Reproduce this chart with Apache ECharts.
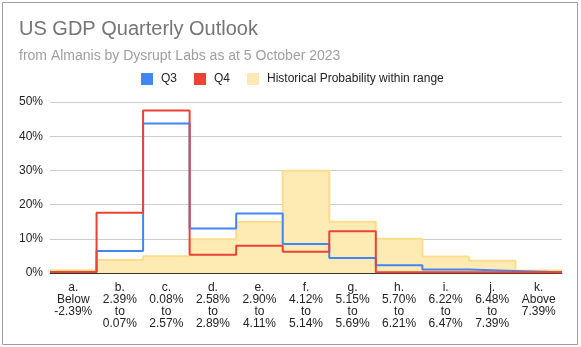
<!DOCTYPE html>
<html>
<head>
<meta charset="utf-8">
<script src="https://cdn.jsdelivr.net/npm/echarts@6/dist/echarts.min.js"></script>
<style>
html,body{margin:0;padding:0;background:#fff;}
#chart{width:581px;height:347px;}
</style>
</head>
<body>
<div id="chart"></div>
<script>
const categories = [
  "a.\nBelow\n-2.39%",
  "b.\n2.39%\nto\n0.07%",
  "c.\n0.08%\nto\n2.57%",
  "d.\n2.58%\nto\n2.89%",
  "e.\n2.90%\nto\n4.11%",
  "f.\n4.12%\nto\n5.14%",
  "g.\n5.15%\nto\n5.69%",
  "h.\n5.70%\nto\n6.21%",
  "i.\n6.22%\nto\n6.47%",
  "j.\n6.48%\nto\n7.39%",
  "k.\nAbove\n7.39%"
];
const q3 = [0.3, 6.4, 43.7, 13.0, 17.4, 8.5, 4.4, 2.3, 1.0, 0.6, 0.2];
const q4 = [0.3, 17.6, 47.5, 5.3, 8.0, 6.2, 12.2, 0.2, 0.2, 0.2, 0.2];
const hist = [0.8, 3.8, 4.9, 9.9, 14.9, 29.9, 15.0, 10.0, 4.8, 3.6, 0.7];
const yTicks = [0, 10, 20, 30, 40, 50];

function stepData(arr) {
  const d = arr.map((v, i) => [i, v]);
  d.push([arr.length, arr[arr.length - 1]]);
  return d;
}

const chart = echarts.init(document.getElementById('chart'), null, {renderer: 'canvas'});
const FONT = 'Liberation Sans, Arial, sans-serif';
chart.setOption({
  animation: false,
  textStyle: {fontFamily: FONT},
  graphic: [{
    type: 'rect', silent: true,
    shape: {x: 2.5, y: 2.5, width: 575, height: 342},
    style: {fill: 'none', stroke: '#9e9e9e', lineWidth: 1},
    z: 100
  }],
  title: [
    {text: 'US GDP Quarterly Outlook', left: 19, top: 19, padding: 0,
     textStyle: {fontFamily: FONT, fontSize: 20, fontWeight: 'normal', color: '#757575'}},
    {text: 'from Almanis by Dysrupt Labs as at 5 October 2023', left: 19, top: 49, padding: 0,
     textStyle: {fontFamily: FONT, fontSize: 14, fontWeight: 'normal', color: '#9e9e9e'}}
  ],
  legend: {
    top: 73, left: 141, padding: 0,
    itemWidth: 12, itemHeight: 12, itemGap: 17,
    icon: 'rect',
    textStyle: {fontFamily: FONT, fontSize: 12, color: '#222', padding: [0, 0, 0, 3]},
    data: [
      {name: 'Q3'},
      {name: 'Q4'},
      {name: 'Historical Probability within range', itemStyle: {color: '#FDE9B3'}}
    ]
  },
  grid: {left: 50, right: 19, top: 102, bottom: 74, containLabel: false},
  xAxis: [
    {
      type: 'category', data: categories, boundaryGap: true,
      axisTick: {show: false},
      axisLine: {show: true, lineStyle: {color: '#333', width: 1}},
      axisLabel: {interval: 0, fontFamily: FONT, fontSize: 12, color: '#222', lineHeight: 12, margin: 9, align: 'center'},
      splitLine: {show: false}
    },
    {
      type: 'value', min: 0, max: categories.length, show: false,
      splitLine: {show: false}
    }
  ],
  yAxis: {
    type: 'value', min: yTicks[0], max: yTicks[yTicks.length - 1], interval: 10,
    axisLine: {show: false}, axisTick: {show: false},
    axisLabel: {formatter: '{value}%', fontFamily: FONT, fontSize: 12, color: '#222', margin: 7},
    splitLine: {lineStyle: {color: '#cccccc', width: 1}}
  },
  series: [
    {
      name: 'Historical Probability within range', type: 'line', xAxisIndex: 1,
      step: 'end', showSymbol: false, data: stepData(hist),
      lineStyle: {color: '#FDDD8A', width: 2},
      itemStyle: {color: '#FDE9B3'},
      areaStyle: {color: '#FEEBB4', opacity: 1},
      z: 1
    },
    {
      name: 'Q3', type: 'line', xAxisIndex: 1,
      step: 'end', showSymbol: false, data: stepData(q3),
      lineStyle: {color: '#4285F4', width: 2},
      itemStyle: {color: '#4285F4'},
      z: 2
    },
    {
      name: 'Q4', type: 'line', xAxisIndex: 1,
      step: 'end', showSymbol: false, data: stepData(q4),
      lineStyle: {color: '#EA4335', width: 2},
      itemStyle: {color: '#EA4335'},
      z: 3
    }
  ]
});
</script>
</body>
</html>
